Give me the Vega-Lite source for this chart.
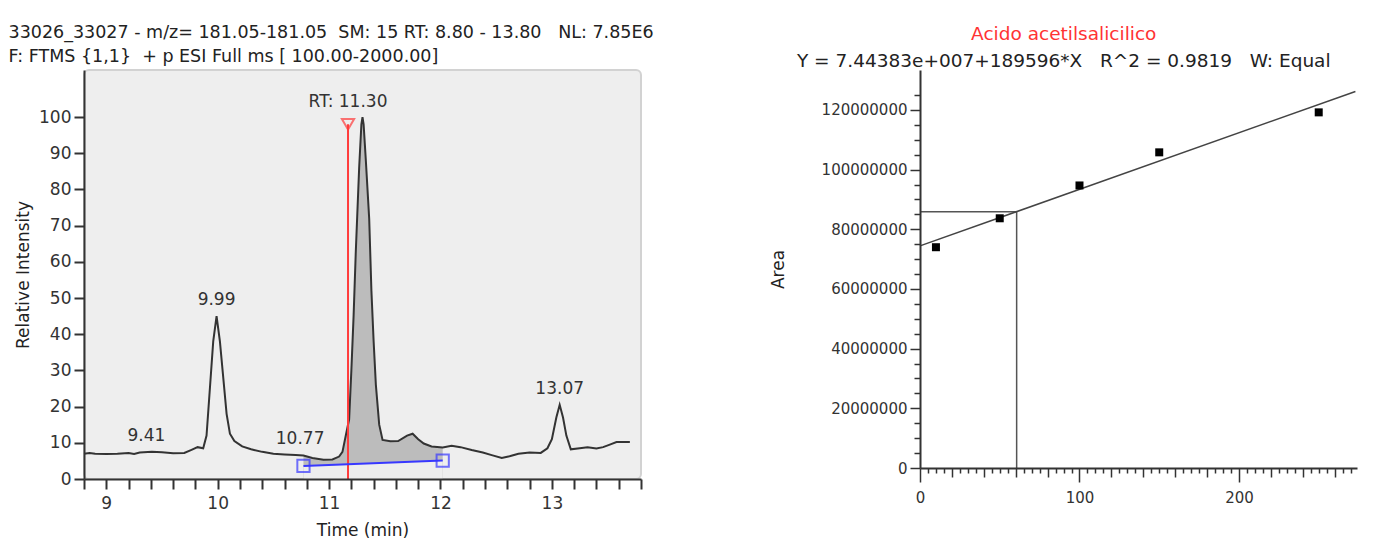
{
  "$schema": "https://vega.github.io/schema/vega-lite/v6.json",
  "background": "white",
  "padding": {"left": 7, "top": 23, "right": 10, "bottom": 0},
  "config": {"view": {"stroke": null}, "font": "DejaVu Sans"},
  "spacing": 114,
  "datasets": {
    "trace": [
      {"t": 8.80, "I": 7.0}, {"t": 8.85, "I": 7.2}, {"t": 8.90, "I": 7.0}, {"t": 9.00, "I": 6.9},
      {"t": 9.10, "I": 7.0}, {"t": 9.20, "I": 7.2}, {"t": 9.25, "I": 6.9}, {"t": 9.30, "I": 7.3},
      {"t": 9.41, "I": 7.5}, {"t": 9.50, "I": 7.4}, {"t": 9.60, "I": 7.1}, {"t": 9.70, "I": 7.2},
      {"t": 9.76, "I": 8.0}, {"t": 9.82, "I": 8.8}, {"t": 9.87, "I": 8.5}, {"t": 9.90, "I": 12},
      {"t": 9.93, "I": 25}, {"t": 9.96, "I": 38}, {"t": 9.99, "I": 45}, {"t": 10.02, "I": 38},
      {"t": 10.05, "I": 28}, {"t": 10.08, "I": 18}, {"t": 10.11, "I": 12.5}, {"t": 10.15, "I": 10.5},
      {"t": 10.22, "I": 9.0}, {"t": 10.30, "I": 8.2}, {"t": 10.40, "I": 7.5}, {"t": 10.50, "I": 7.0},
      {"t": 10.60, "I": 6.8}, {"t": 10.70, "I": 6.6}, {"t": 10.77, "I": 6.5}, {"t": 10.85, "I": 5.8},
      {"t": 10.95, "I": 5.3}, {"t": 11.03, "I": 5.4}, {"t": 11.09, "I": 6.2}, {"t": 11.12, "I": 7.5},
      {"t": 11.15, "I": 12}, {"t": 11.18, "I": 16.5}, {"t": 11.20, "I": 30}, {"t": 11.22, "I": 45},
      {"t": 11.24, "I": 63}, {"t": 11.27, "I": 86}, {"t": 11.29, "I": 98}, {"t": 11.30, "I": 100},
      {"t": 11.31, "I": 98}, {"t": 11.33, "I": 88}, {"t": 11.36, "I": 72}, {"t": 11.38, "I": 52},
      {"t": 11.40, "I": 38}, {"t": 11.42, "I": 26}, {"t": 11.45, "I": 15}, {"t": 11.48, "I": 10.8},
      {"t": 11.55, "I": 10.4}, {"t": 11.62, "I": 10.5}, {"t": 11.70, "I": 12}, {"t": 11.75, "I": 12.5},
      {"t": 11.80, "I": 11}, {"t": 11.85, "I": 9.8}, {"t": 11.92, "I": 9.0}, {"t": 12.02, "I": 8.7},
      {"t": 12.10, "I": 9.2}, {"t": 12.18, "I": 8.8}, {"t": 12.28, "I": 8.0}, {"t": 12.38, "I": 7.3},
      {"t": 12.46, "I": 6.6}, {"t": 12.55, "I": 5.8}, {"t": 12.62, "I": 6.3}, {"t": 12.70, "I": 7.0},
      {"t": 12.80, "I": 7.3}, {"t": 12.90, "I": 7.2}, {"t": 12.96, "I": 8.5}, {"t": 13.00, "I": 11},
      {"t": 13.04, "I": 17}, {"t": 13.07, "I": 20.5}, {"t": 13.10, "I": 17}, {"t": 13.13, "I": 12},
      {"t": 13.17, "I": 8.2}, {"t": 13.25, "I": 8.5}, {"t": 13.32, "I": 8.8}, {"t": 13.40, "I": 8.4},
      {"t": 13.46, "I": 8.8}, {"t": 13.52, "I": 9.5}, {"t": 13.58, "I": 10.2}, {"t": 13.70, "I": 10.2}
    ],
    "peaks": [
      {"t": 9.36, "I": 7.5, "label": "9.41"},
      {"t": 9.99, "I": 45, "label": "9.99"},
      {"t": 10.74, "I": 6.5, "label": "10.77"},
      {"t": 13.07, "I": 20.5, "label": "13.07"}
    ],
    "rtpeak": [{"t": 11.17, "I": 100, "label": "RT: 11.30"}],
    "marker": [{"t": 11.17, "I": 98}],
    "baseline": [{"t": 10.77, "I": 3.6}, {"t": 12.02, "I": 5.1}],
    "calib": [
      {"x": 10, "y": 74000000}, {"x": 50, "y": 83700000}, {"x": 100, "y": 94700000},
      {"x": 150, "y": 105800000}, {"x": 250, "y": 119200000}
    ],
    "fit": [{"x": 0, "y": 74438300}, {"x": 273, "y": 126198000}],
    "sample": [{"x": 60.6, "y": 85928000}]
  },
  "hconcat": [
    {
      "width": 557,
      "height": 409,
      "view": {"fill": "#eeeeee", "stroke": "#d2d2d2", "strokeWidth": 2, "cornerRadius": 5},
      "title": {
        "text": "33026_33027 - m/z= 181.05-181.05\u00a0\u00a0SM: 15 RT: 8.80 - 13.80\u00a0\u00a0\u00a0NL: 7.85E6",
        "subtitle": "F: FTMS {1,1}\u00a0 + p ESI Full ms [ 100.00-2000.00]",
        "anchor": "start", "frame": "bounds", "dx": -6,
        "fontSize": 17.5, "fontWeight": "normal", "color": "#222",
        "subtitleFontSize": 17.5, "subtitleColor": "#222", "subtitlePadding": 6,
        "font": "DejaVu Sans", "subtitleFont": "DejaVu Sans", "offset": 5
      },
      "encoding": {
        "x": {
          "field": "t", "type": "quantitative",
          "scale": {"domain": [8.8, 13.8], "nice": false, "zero": false},
          "axis": {
            "title": "Time (min)",
            "values": [8.8, 9, 9.2, 9.4, 9.6, 9.8, 10, 10.2, 10.4, 10.6, 10.8, 11, 11.2, 11.4, 11.6, 11.8, 12, 12.2, 12.4, 12.6, 12.8, 13, 13.2, 13.4, 13.6, 13.8],
            "labelExpr": "abs(datum.value - round(datum.value)) < 0.001 ? format(datum.value, 'd') : ''",
            "labelFlush": false, "labelOverlap": false,
            "tickSize": 10, "tickWidth": 2, "tickColor": "#333",
            "domainColor": "#333", "domainWidth": 2,
            "labelFontSize": 17, "labelColor": "#333", "labelPadding": 6,
            "titleFontSize": 17, "titleFontWeight": "normal", "titleColor": "#222", "titlePadding": 11,
            "grid": false, "zindex": 1
          }
        },
        "y": {
          "field": "I", "type": "quantitative",
          "scale": {"domain": [0, 113], "nice": false},
          "axis": {
            "title": "Relative Intensity",
            "values": [0, 10, 20, 30, 40, 50, 60, 70, 80, 90, 100],
            "tickSize": 10, "tickWidth": 2, "tickColor": "#333",
            "domainColor": "#333", "domainWidth": 2,
            "labelFontSize": 17, "labelColor": "#333", "labelPadding": 3,
            "titleFontSize": 17, "titleFontWeight": "normal", "titleColor": "#222", "titlePadding": 6,
            "grid": false, "zindex": 1
          }
        }
      },
      "layer": [
        {
          "data": {"name": "trace"},
          "transform": [{"filter": "datum.t >= 10.77 && datum.t <= 12.02"}],
          "mark": {"type": "area", "color": "#bcbcbc"}
        },
        {
          "data": {"name": "baseline"},
          "mark": {"type": "area", "color": "#eeeeee"}
        },
        {
          "data": {"name": "trace"},
          "mark": {"type": "line", "color": "#333333", "strokeWidth": 2}
        },
        {
          "data": {"name": "marker"},
          "mark": {"type": "rule", "color": "#ff3b3b", "strokeWidth": 2},
          "encoding": {"y": {"datum": 0}, "y2": {"field": "I"}}
        },
        {
          "data": {"name": "marker"},
          "mark": {"type": "point", "shape": "triangle-down", "color": "#ff3b3b", "filled": false, "size": 150, "strokeWidth": 2}
        },
        {
          "data": {"name": "baseline"},
          "mark": {"type": "line", "color": "#3838ff", "strokeWidth": 2}
        },
        {
          "data": {"name": "baseline"},
          "mark": {"type": "point", "shape": "square", "color": "#3838ff", "filled": false, "size": 150, "strokeWidth": 2}
        },
        {
          "data": {"name": "peaks"},
          "mark": {"type": "text", "baseline": "bottom", "dy": -7, "fontSize": 17, "color": "#333"},
          "encoding": {"text": {"field": "label"}}
        },
        {
          "data": {"name": "rtpeak"},
          "mark": {"type": "text", "baseline": "bottom", "dy": -6, "fontSize": 17, "color": "#333"},
          "encoding": {"text": {"field": "label"}}
        }
      ]
    },
    {
      "width": 437,
      "height": 398,
      "title": {
        "text": "Acido acetilsalicilico",
        "subtitle": "Y = 7.44383e+007+189596*X\u00a0\u00a0\u00a0R^2 = 0.9819\u00a0\u00a0\u00a0W: Equal",
        "anchor": "middle", "frame": "bounds",
        "fontSize": 18.5, "fontWeight": "normal", "color": "#ff3333",
        "subtitleFontSize": 18.5, "subtitleColor": "#222", "subtitlePadding": 8,
        "font": "DejaVu Sans", "subtitleFont": "DejaVu Sans", "offset": 0
      },
      "encoding": {
        "x": {
          "field": "x", "type": "quantitative",
          "scale": {"domain": [0, 274], "nice": false},
          "axis": {
            "title": null,
            "values": [0, 5, 10, 15, 20, 25, 30, 35, 40, 45, 50, 55, 60, 65, 70, 75, 80, 85, 90, 95, 100, 105, 110, 115, 120, 125, 130, 135, 140, 145, 150, 155, 160, 165, 170, 175, 180, 185, 190, 195, 200, 205, 210, 215, 220, 225, 230, 235, 240, 245, 250, 255, 260, 265, 270],
            "labelExpr": "datum.value % 100 === 0 ? format(datum.value, 'd') : ''",
            "labelFlush": false, "labelOverlap": false,
            "tickSize": {"condition": [{"test": "datum.value % 100 === 0", "value": 14}, {"test": "datum.value % 20 === 0", "value": 9}], "value": 5},
            "tickWidth": 1.5, "tickColor": "#333",
            "domainColor": "#333", "domainWidth": 2,
            "labelFontSize": 15, "labelColor": "#333", "labelPadding": 8,
            "grid": false, "zindex": 1
          }
        },
        "y": {
          "field": "y", "type": "quantitative",
          "scale": {"domain": [0, 133400000], "nice": false},
          "axis": {
            "title": "Area",
            "values": [0, 5000000, 10000000, 15000000, 20000000, 25000000, 30000000, 35000000, 40000000, 45000000, 50000000, 55000000, 60000000, 65000000, 70000000, 75000000, 80000000, 85000000, 90000000, 95000000, 100000000, 105000000, 110000000, 115000000, 120000000, 125000000],
            "labelExpr": "datum.value % 20000000 === 0 ? format(datum.value, 'd') : ''",
            "labelOverlap": false, "labelFlush": false,
            "tickSize": {"condition": {"test": "datum.value % 20000000 === 0", "value": 10}, "value": 6},
            "tickWidth": 1.5, "tickColor": "#333",
            "domainColor": "#333", "domainWidth": 2,
            "labelFontSize": 15, "labelColor": "#333", "labelPadding": 3,
            "titleFontSize": 17, "titleFontWeight": "normal", "titleColor": "#222", "titlePadding": 34,
            "grid": false, "zindex": 1
          }
        }
      },
      "layer": [
        {
          "data": {"name": "sample"},
          "mark": {"type": "rule", "color": "#555", "strokeWidth": 1.5},
          "encoding": {"x": {"datum": 0}, "x2": {"field": "x"}}
        },
        {
          "data": {"name": "sample"},
          "mark": {"type": "rule", "color": "#555", "strokeWidth": 1.5},
          "encoding": {"y": {"datum": 0}, "y2": {"field": "y"}}
        },
        {
          "data": {"name": "fit"},
          "mark": {"type": "line", "color": "#444", "strokeWidth": 1.5}
        },
        {
          "data": {"name": "calib"},
          "mark": {"type": "square", "color": "#000", "filled": true, "size": 64, "opacity": 1}
        }
      ]
    }
  ]
}
